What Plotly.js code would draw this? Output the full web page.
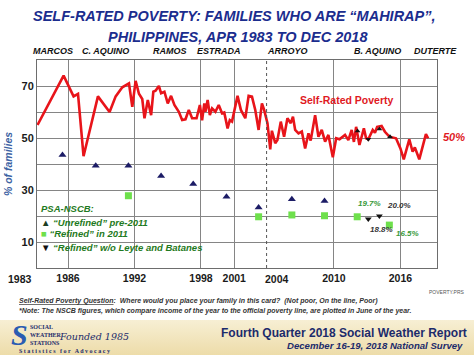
<!DOCTYPE html>
<html>
<head>
<meta charset="utf-8">
<script src="https://cdn.plot.ly/plotly-3.0.1.min.js"></script>
<style>
  html, body { margin:0; padding:0; }
  body { width:474px; height:355px; overflow:hidden;
    background: linear-gradient(to bottom, #ffffff 0px, #ffffff 320px, #f7efd4 320px, #eddca9 355px); }
  #chart { width:474px; height:355px; }
</style>
</head>
<body>
<div id="chart"></div>
<script>
// ---- Self-Rated Poverty (SWS) : year (decimal) and % of families ----
const srpYears = [1983.25,1985.6,1986.5,1986.9,1987.4,1988.7,1989.75,1990.3,1990.9,1991.5,1991.8,1992.1,1992.4,1992.7,1992.9,1993.2,1993.5,1993.7,1993.9,1994.2,1994.4,1994.7,1995.0,1995.3,1995.6,1996.0,1996.3,1996.6,1996.9,1997.2,1997.6,1997.9,1998.1,1998.3,1998.4,1998.6,1998.8,1999.0,1999.3,1999.6,1999.9,2000.1,2000.4,2000.6,2000.8,2001.3,2001.6,2002.0,2002.3,2002.6,2002.9,2003.2,2003.5,2003.7,2004.0,2004.25,2004.4,2004.7,2004.9,2005.2,2005.5,2005.8,2006.1,2006.3,2006.5,2006.8,2007.1,2007.4,2007.7,2007.9,2008.3,2008.6,2008.9,2009.2,2009.5,2009.9,2010.2,2010.5,2011.0,2011.3,2011.6,2011.8,2012.0,2012.3,2012.7,2012.9,2013.1,2013.5,2013.7,2013.9,2014.3,2014.6,2015.0,2015.6,2016.0,2016.3,2016.8,2017.1,2017.3,2017.7,2018.3,2018.5];
const srpValues = [55,74,66,67,43,66,60,66,69.5,71,62,72,67,65,57.6,64.6,58.8,67.8,68.2,70,67.2,67.8,63.3,66.2,62.7,60.1,56.9,57.2,60.8,57.6,57.6,62.7,56.8,63.3,60.1,64.6,58.8,61.4,60.1,62.7,59.5,59.8,53.7,56.9,56.3,66.2,60.8,57.6,66.2,65.9,60.8,53.1,63.3,60.8,55.7,45.6,52.8,48,49.2,56.3,50.5,57.6,55.7,58.2,53.1,51.8,52.5,46,51.8,49,58.8,50.5,53.1,48.6,51.2,42.6,49.9,49.5,51.2,49.2,53.1,48.5,54.3,47.3,53.7,49.9,49.5,53.1,52,54.3,54.6,52.4,50.5,49.9,46,41.8,49.5,44.7,46.4,41.8,51.5,49.9];

// survey markers drawn on the SWS line
const swsMarkYears = [2012.13, 2013.1, 2014.1, 2015.06];
const swsMarkValues = [52.7, 49.5, 53.5, 50.5];

// ---- PSA-NSCB official poverty incidence (plotted in June) ----
const unrefinedYears = [1985.5,1988.5,1991.45,1994.4,1997.3,2000.3,2003.2,2006.2,2009.15];
const unrefinedValues = [43.5,39.3,39.3,35.4,32.3,27.4,23.3,26.4,25.8];
const refinedYears = [1991.45,2003.2,2006.2,2009.15,2012.1,2015.0];
const refinedValues = [27.8,19.7,20.4,20.1,19.7,16.5];
const woLeyteYears = [2013.1,2014.1];
const woLeyteValues = [18.8,20.0];

// ---- axes ----
const gridYears = [1986,1992,1998,2001,2010,2016];
const gridYearLabels = ['1986','1992','1998','2001','2010','2016'];
const yTickVals = [0,10,20,30,40,50,60,70,80];
const yTickText = ['','10','','30','','50','','70',''];
const presidents = ['MARCOS','C. AQUINO','RAMOS','ESTRADA','ARROYO','B. AQUINO','DUTERTE'];
const presidentPx = [53,105.5,169.5,218.5,287,377.5,435];

const FONT = 'Liberation Sans, Arial, sans-serif';
const L = 37, T = 60, W = 400, H = 208;
function px(x){ return (x - L)/W; }
function py(y){ return (T + H - y)/H; }
function ann(text, x, y, font, extra){
  return Object.assign({xref:'paper', yref:'paper', x:px(x), y:py(y), text:text,
    showarrow:false, xanchor:'center', yanchor:'middle', font:Object.assign({family:FONT}, font)}, extra||{});
}

const traces = [
  {x:srpYears, y:srpValues, type:'scatter', mode:'lines',
   line:{color:'#e8141a', width:2.6}, hoverinfo:'skip', showlegend:false},
  {x:swsMarkYears, y:swsMarkValues, type:'scatter', mode:'markers',
   marker:{symbol:['triangle-up','triangle-down','triangle-up','triangle-up'], size:5, color:'#111'}, showlegend:false},
  {x:unrefinedYears, y:unrefinedValues, type:'scatter', mode:'markers',
   marker:{symbol:'triangle-up', size:7, color:'#1c1c66'}, showlegend:false},
  {x:refinedYears, y:refinedValues, type:'scatter', mode:'markers',
   marker:{symbol:'square', size:7, color:'#6ee04c'}, showlegend:false},
  {x:woLeyteYears, y:woLeyteValues, type:'scatter', mode:'markers',
   marker:{symbol:'triangle-down', size:6, color:'#111'}, showlegend:false}
];

const annotations = [
  ann('SELF-RATED POVERTY: FAMILIES WHO ARE “MAHIRAP”,', 234, 16.5, {size:14.5, weight:'bold', style:'italic', color:'#1b2d8e'}),
  ann('PHILIPPINES, APR 1983 TO DEC 2018', 238, 36.5, {size:14.5, weight:'bold', style:'italic', color:'#1b2d8e'}),
  ann('1983', 20, 279, {size:10.5, weight:'bold', color:'#1a1a1a'}),
  ann('2004', 277, 279, {size:10.5, weight:'bold', color:'#1a1a1a'}),
  ann('Self-Rated Poverty', 347, 100, {size:10.5, weight:'bold', color:'#e01a1f'}),
  ann('50%', 454, 137, {size:11, weight:'bold', style:'italic', color:'#e01a1f'}),
  ann('PSA-NSCB:', 39, 208, {size:9.5, weight:'bold', style:'italic', color:'#1f7a22'}, {xanchor:'left'}),
  ann('<span style="color:#1c3d22">▲</span> “Unrefined” pre-2011', 39, 222, {size:9.5, weight:'bold', style:'italic', color:'#1f7a22'}, {xanchor:'left'}),
  ann('<span style="color:#6ee04c">■</span> “Refined” in 2011', 39, 233.5, {size:9.5, weight:'bold', style:'italic', color:'#1f7a22'}, {xanchor:'left'}),
  ann('<span style="color:#111">▼</span> “Refined” w/o Leyte and Batanes', 39, 247, {size:9.5, weight:'bold', style:'italic', color:'#1f7a22'}, {xanchor:'left'}),
  {xref:'x', yref:'y', x:refinedYears[4], y:refinedValues[4], text:'19.7%', showarrow:false, xshift:12, yshift:13,
   font:{family:FONT, size:8, weight:'bold', style:'italic', color:'#3a9a3a'}},
  {xref:'x', yref:'y', x:woLeyteYears[1], y:woLeyteValues[1], text:'20.0%', showarrow:false, xshift:20, yshift:11,
   font:{family:FONT, size:8, weight:'bold', style:'italic', color:'#333'}},
  {xref:'x', yref:'y', x:woLeyteYears[0], y:woLeyteValues[0], text:'18.8%', showarrow:false, xshift:13, yshift:-10,
   font:{family:FONT, size:8, weight:'bold', style:'italic', color:'#333'}},
  {xref:'x', yref:'y', x:refinedYears[5], y:refinedValues[5], text:'16.5%', showarrow:false, xshift:18, yshift:-8,
   font:{family:FONT, size:8, weight:'bold', style:'italic', color:'#3a9a3a'}},
  ann('POVERTY.PRS', 447, 292, {size:5, color:'#555'}),
  ann('<u>Self-Rated Poverty Question</u>:  Where would you place your family in this card?  (Not poor, On the line, Poor)', 17, 300.5,
      {size:7, weight:'bold', style:'italic', color:'#333'}, {xanchor:'left'}),
  ann('*Note: The NSCB figures, which compare income of the year to the official poverty line, are plotted in June of the year.', 17, 310.5,
      {size:7, weight:'bold', style:'italic', color:'#333'}, {xanchor:'left'}),
  ann('S', 19, 334, {family:'Liberation Serif, serif', size:30, weight:'bold', style:'italic', color:'#2a5cb2'}),
  ann('SOCIAL<br>WEATHER<br>STATIONS', 28, 335, {family:'Liberation Serif, serif', size:6, weight:'bold', color:'#1c2b6b'}, {xanchor:'left', align:'left'}),
  ann('Founded 1985', 94, 336, {family:'DejaVu Serif, serif', size:9.5, style:'italic', color:'#1c2b6b'}),
  ann('S t a t i s t i c s   f o r   A d v o c a c y', 64, 350.5, {family:'Liberation Serif, serif', size:6, weight:'bold', color:'#1c2b6b'}),
  ann('Fourth Quarter 2018 Social Weather Report', 344, 333, {size:12, weight:'bold', color:'#1c2b6b'}),
  ann('December 16-19, 2018 National Survey', 465, 345.5, {size:9.6, weight:'bold', style:'italic', color:'#1c2b6b'}, {xanchor:'right'})
];
presidents.forEach((p,i)=>annotations.push(ann(p, presidentPx[i], 51, {size:9, weight:'bold', style:'italic', color:'#111'})));

const layout = {
  width:474, height:355,
  margin:{l:L, r:474-L-W, t:T, b:355-T-H, pad:0},
  paper_bgcolor:'rgba(0,0,0,0)', plot_bgcolor:'#ffffff',
  font:{family:FONT},
  showlegend:false,
  xaxis:{range:[1983.2,2019.3], tickmode:'array', tickvals:gridYears, ticktext:gridYearLabels,
    showgrid:true, gridcolor:'#858585', gridwidth:1, zeroline:false,
    showline:true, mirror:true, linecolor:'#6d6d6d', linewidth:1, ticks:'',
    tickfont:{family:FONT, size:10.5, weight:'bold', color:'#1a1a1a'}, fixedrange:true, automargin:false},
  yaxis:{range:[0,80], tickmode:'array', tickvals:yTickVals, ticktext:yTickText,
    showgrid:true, gridcolor:'#858585', gridwidth:1, zeroline:false,
    showline:true, mirror:true, linecolor:'#6d6d6d', linewidth:1, ticks:'',
    tickfont:{family:FONT, size:11, weight:'bold', color:'#1a1a1a'},
    title:{text:'% of families', standoff:6, font:{family:FONT, size:10.5, weight:'bold', style:'italic', color:'#3d63a3'}},
    fixedrange:true, automargin:false},
  shapes:[
    {type:'line', xref:'x', yref:'paper', x0:2003.92, x1:2003.92, y0:0, y1:1, line:{color:'#555', width:1, dash:'dot'}}
  ],
  annotations:annotations
};

Plotly.newPlot('chart', traces, layout, {staticPlot:true, displayModeBar:false});
</script>
</body>
</html>
